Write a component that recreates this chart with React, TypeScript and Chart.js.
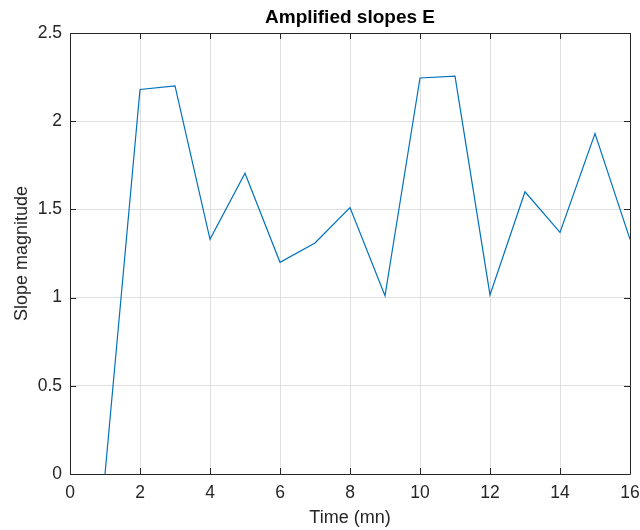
import React, { useEffect, useRef } from "react";
import { Chart, registerables } from "chart.js";

Chart.register(...registerables);

const timeMinutes = [1, 2, 3, 4, 5, 6, 7, 8, 9, 10, 11, 12, 13, 14, 15, 16];
const slopeValues = [0, 2.18, 2.2, 1.33, 1.705, 1.2, 1.31, 1.51, 1.01, 2.245, 2.255, 1.015, 1.6, 1.37, 1.93, 1.33];
const xTicks = [0, 2, 4, 6, 8, 10, 12, 14, 16];
const yTicks = [0, 0.5, 1, 1.5, 2, 2.5];
const titleText = "Amplified slopes E";
const xLabel = "Time (mn)";
const yLabel = "Slope magnitude";

const FONT = "'Liberation Sans', Arial, Helvetica, sans-serif";
const AXIS_COLOR = "#262626";
const GRID_COLOR = "#dfdfdf";
const LINE_COLOR = "#0072BD";

const framePlugin = {
  id: "matlabFrame",
  afterDatasetsDraw(chart: any) {
    const { ctx, chartArea } = chart;
    const { left, right, top, bottom } = chartArea;
    const xs = chart.scales.x;
    const ys = chart.scales.y;
    const tl = 6;
    ctx.save();
    ctx.strokeStyle = AXIS_COLOR;
    ctx.lineWidth = 1;
    ctx.beginPath();
    for (const v of xTicks) {
      const px = Math.round(xs.getPixelForValue(v)) + 0.5;
      ctx.moveTo(px, bottom);
      ctx.lineTo(px, bottom - tl);
      ctx.moveTo(px, top);
      ctx.lineTo(px, top + tl);
    }
    for (const v of yTicks) {
      const py = Math.round(ys.getPixelForValue(v)) + 0.5;
      ctx.moveTo(left, py);
      ctx.lineTo(left + tl, py);
      ctx.moveTo(right, py);
      ctx.lineTo(right - tl, py);
    }
    ctx.stroke();
    ctx.beginPath();
    ctx.rect(Math.round(left) + 0.5, Math.round(top) + 0.5, Math.round(right - left), Math.round(bottom - top));
    ctx.stroke();

    ctx.fillStyle = "#000000";
    ctx.font = `bold 19px ${FONT}`;
    ctx.textAlign = "center";
    ctx.textBaseline = "middle";
    ctx.fillText(titleText, (left + right) / 2, 18);

    ctx.fillStyle = AXIS_COLOR;
    ctx.font = `18px ${FONT}`;
    ctx.fillText(xLabel, (left + right) / 2, 518);

    ctx.translate(22, (top + bottom) / 2);
    ctx.rotate(-Math.PI / 2);
    ctx.fillText(yLabel, 0, 0);
    ctx.restore();
  },
};

export default function App() {
  const ref = useRef<HTMLCanvasElement | null>(null);

  useEffect(() => {
    document.body.style.margin = "0";
    const canvas = ref.current;
    if (!canvas) return;
    const chart = new Chart(canvas, {
      type: "line",
      data: {
        datasets: [
          {
            data: timeMinutes.map((t, i) => ({ x: t, y: slopeValues[i] })),
            borderColor: LINE_COLOR,
            borderWidth: 1.2,
            pointRadius: 0,
            tension: 0,
            fill: false,
          },
        ],
      },
      options: {
        responsive: false,
        animation: false,
        devicePixelRatio: 1,
        layout: { padding: { top: 33, right: 0, left: 0, bottom: 0 } },
        plugins: {
          legend: { display: false },
          title: { display: false },
          tooltip: { enabled: false },
        },
        scales: {
          x: {
            type: "linear",
            min: 0,
            max: 16,
            afterFit: (s: any) => {
              s.height = 56;
              s.paddingLeft = 0;
              s.paddingRight = 10;
            },
            afterBuildTicks: (s: any) => {
              s.ticks = xTicks.map((v) => ({ value: v }));
            },
            ticks: {
              autoSkip: false,
              maxRotation: 0,
              padding: 9,
              color: AXIS_COLOR,
              font: { family: FONT, size: 17.5 },
            },
            grid: { color: GRID_COLOR, drawTicks: false, tickLength: 0 },
            border: { display: false },
          },
          y: {
            type: "linear",
            min: 0,
            max: 2.5,
            afterFit: (s: any) => {
              s.width = 70;
              s.paddingTop = 0;
              s.paddingBottom = 0;
            },
            afterBuildTicks: (s: any) => {
              s.ticks = yTicks.map((v) => ({ value: v }));
            },
            ticks: {
              padding: 8,
              color: AXIS_COLOR,
              font: { family: FONT, size: 17.5 },
              callback: (v: any) => String(v),
            },
            grid: { color: GRID_COLOR, drawTicks: false, tickLength: 0 },
            border: { display: false },
          },
        },
      },
      plugins: [framePlugin],
    });
    return () => chart.destroy();
  }, []);

  return (
    <div style={{ width: 640, height: 530, background: "#ffffff" }}>
      <canvas ref={ref} width={640} height={530} style={{ display: "block" }} />
    </div>
  );
}
